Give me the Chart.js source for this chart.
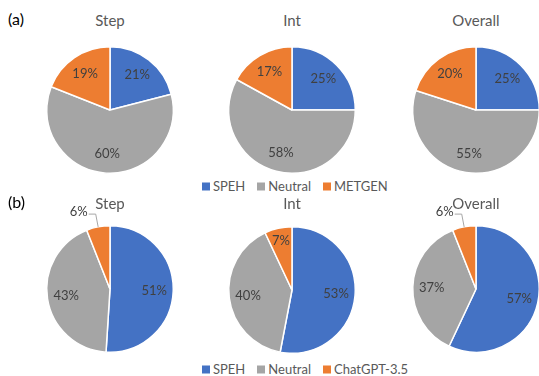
<!DOCTYPE html>
<html>
<head>
<meta charset="utf-8">
<script src="https://cdn.jsdelivr.net/npm/chart.js@4/dist/chart.umd.min.js"></script>
<style>
  html, body { margin: 0; padding: 0; background: #fff; }
  #wrap { position: relative; width: 539px; height: 376px; overflow: hidden; font-family: Lato, "Open Sans", sans-serif; }
  canvas.pie { position: absolute; }
  .ttl { position: absolute; transform: translate(-50%, -50%); font-size: 15px; color: #595959; white-space: nowrap; line-height: 1; }
  .tag { position: absolute; transform: translateY(-50%); font-size: 16px; color: #000; line-height: 1; }
  .legend { position: absolute; display: flex; align-items: center; transform: translateY(-50%); font-size: 13px; color: #595959; line-height: 1; white-space: nowrap; }
  .legend .sq { width: 8px; height: 8px; margin-right: 3px; display: inline-block; }
  .legend .it { display: flex; align-items: center; margin-right: 12px; }
</style>
</head>
<body>
<div id="wrap"></div>
<script>
// ---- data ----
const categoriesA = ['SPEH', 'Neutral', 'METGEN'];
const categoriesB = ['SPEH', 'Neutral', 'ChatGPT-3.5'];
const panelTitles = ['Step', 'Int', 'Overall'];
const panelTags = ['(a)', '(b)'];
const stepA = [21, 60, 19];
const intA = [25, 58, 17];
const overallA = [25, 55, 20];
const stepB = [51, 43, 6];
const intB = [53, 40, 7];
const overallB = [57, 37, 6];
const sliceColors = ['#4472C4', '#A5A5A5', '#ED7D31'];

// ---- layout ----
const wrap = document.getElementById('wrap');
const rows = [
  { tag: panelTags[0], tagY: 19, titleY: 20, legendY: 186, cats: categoriesA, sets: [stepA, intA, overallA], cy: [110, 110, 110] },
  { tag: panelTags[1], tagY: 202, titleY: 203, legendY: 369, cats: categoriesB, sets: [stepB, intB, overallB], cy: [289, 290, 289] }
];
const centersX = [110, 292, 476];
const CW = 200, CH = 178, AREA = 128;

const pieLabels = {
  id: 'pieLabels',
  afterDatasetsDraw(chart) {
    const ctx = chart.ctx;
    const ds = chart.data.datasets[0];
    const meta = chart.getDatasetMeta(0);
    const total = ds.data.reduce((a, b) => a + b, 0);
    ctx.save();
    ctx.font = '13px Lato, "Open Sans", sans-serif';
    ctx.fillStyle = '#404040';
    ctx.textBaseline = 'middle';
    meta.data.forEach((arc, i) => {
      const p = arc.getProps(['x', 'y', 'startAngle', 'endAngle', 'outerRadius'], true);
      const mid = (p.startAngle + p.endAngle) / 2;
      const share = ds.data[i] / total;
      const txt = ds.data[i] + '%';
      const c = Math.cos(mid), s = Math.sin(mid);
      if (share < 0.065) {
        const ex = p.x + c * p.outerRadius, ey = p.y + s * p.outerRadius;
        const kx = p.x + c * (p.outerRadius + 13), ky = p.y + s * (p.outerRadius + 13);
        const side = c < 0 ? -1 : 1;
        ctx.strokeStyle = '#A6A6A6';
        ctx.lineWidth = 1;
        ctx.beginPath();
        ctx.moveTo(ex, ey);
        ctx.lineTo(kx, ky);
        ctx.lineTo(kx + side * 7, ky);
        ctx.stroke();
        ctx.textAlign = side < 0 ? 'right' : 'left';
        ctx.fillText(txt, kx + side * 8, ky - 2);
      } else {
        const f = share < 0.1 ? 0.8 : 0.7;
        ctx.textAlign = 'center';
        ctx.fillText(txt, p.x + c * p.outerRadius * f, p.y + s * p.outerRadius * f);
      }
    });
    ctx.restore();
  }
};

rows.forEach(row => {
  const tag = document.createElement('div');
  tag.className = 'tag';
  tag.textContent = row.tag;
  tag.style.left = '8px';
  tag.style.top = row.tagY + 'px';
  wrap.appendChild(tag);

  const lg = document.createElement('div');
  lg.className = 'legend';
  lg.style.left = '202px';
  lg.style.top = row.legendY + 'px';
  row.cats.forEach((c, i) => {
    const it = document.createElement('span');
    it.className = 'it';
    const sq = document.createElement('span');
    sq.className = 'sq';
    sq.style.background = sliceColors[i];
    it.appendChild(sq);
    it.appendChild(document.createTextNode(c));
    lg.appendChild(it);
  });
  wrap.appendChild(lg);

  row.sets.forEach((vals, k) => {
    const t = document.createElement('div');
    t.className = 'ttl';
    t.textContent = panelTitles[k];
    t.style.left = centersX[k] + 'px';
    t.style.top = row.titleY + 'px';
    wrap.appendChild(t);

    const cv = document.createElement('canvas');
    cv.className = 'pie';
    cv.width = CW; cv.height = CH;
    cv.style.width = CW + 'px'; cv.style.height = CH + 'px';
    cv.style.left = (centersX[k] - CW / 2) + 'px';
    cv.style.top = (row.cy[k] - CH / 2) + 'px';
    wrap.appendChild(cv);

    new Chart(cv, {
      type: 'pie',
      data: {
        labels: row.cats,
        datasets: [{ data: vals, backgroundColor: sliceColors, borderColor: '#ffffff', borderWidth: 1.5 }]
      },
      options: {
        responsive: false,
        maintainAspectRatio: false,
        animation: false,
        layout: { padding: { left: (CW - AREA) / 2, right: (CW - AREA) / 2, top: (CH - AREA) / 2, bottom: (CH - AREA) / 2 } },
        plugins: { legend: { display: false }, tooltip: { enabled: false }, title: { display: false } }
      },
      plugins: [pieLabels]
    });
  });
});
</script>
</body>
</html>
